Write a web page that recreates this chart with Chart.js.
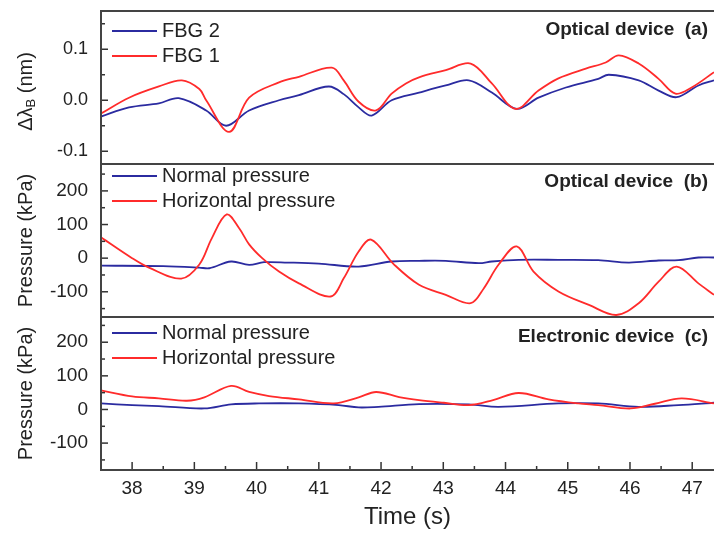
<!DOCTYPE html>
<html>
<head>
<meta charset="utf-8">
<script src="https://cdn.jsdelivr.net/npm/chart.js@4.4.1/dist/chart.umd.min.js"></script>
<style>
  html, body { margin: 0; padding: 0; background: #fff; }
  #wrap { position: relative; width: 714px; height: 534px; }
</style>
</head>
<body>
<div id="wrap"><canvas id="chart" width="714" height="534"></canvas></div>
<script>
// --- values ---
// panel (a): FBG wavelength shift (nm)
var fbg1Time = [37.5, 37.95, 38.43, 38.8, 39.08, 39.19, 39.56, 39.88, 40.36, 40.68, 41.21, 41.4, 41.64, 41.92, 42.17, 42.4, 42.61, 43.04, 43.44, 43.78, 44.16, 44.53, 44.85, 45.29, 45.61, 45.82, 46.14, 46.46, 46.73, 46.99, 47.35];
var fbg1Shift = [-0.026, 0.005, 0.027, 0.039, 0.022, 0.0, -0.062, 0.005, 0.035, 0.046, 0.064, 0.039, -0.003, -0.020, 0.013, 0.033, 0.045, 0.059, 0.072, 0.033, -0.017, 0.019, 0.043, 0.062, 0.074, 0.088, 0.072, 0.042, 0.013, 0.025, 0.055];
var fbg2Time = [37.5, 37.95, 38.43, 38.75, 39.19, 39.51, 39.88, 40.36, 40.68, 41.16, 41.4, 41.64, 41.85, 42.17, 42.61, 43.04, 43.41, 43.78, 44.18, 44.53, 44.97, 45.49, 45.66, 46.14, 46.46, 46.75, 47.1, 47.35];
var fbg2Shift = [-0.032, -0.014, -0.006, 0.004, -0.020, -0.050, -0.020, 0.0, 0.010, 0.027, 0.012, -0.014, -0.030, 0.0, 0.015, 0.029, 0.039, 0.015, -0.017, 0.005, 0.025, 0.042, 0.050, 0.039, 0.019, 0.006, 0.029, 0.039];

// panel (b): optical device pressures (kPa)
var optHorizTime = [37.5, 38.0, 38.27, 38.79, 39.08, 39.28, 39.52, 39.72, 39.88, 40.09, 40.36, 40.68, 41.19, 41.4, 41.64, 41.84, 42.21, 42.61, 43.04, 43.44, 43.65, 43.89, 44.18, 44.45, 44.85, 45.34, 45.78, 46.14, 46.46, 46.75, 47.1, 47.35];
var optHoriz = [62, 0, -28, -61, -19, 59, 130, 89, 41, 0, -40, -75, -114, -60, 20, 55, -19, -79, -109, -134, -90, -19, 35, -40, -99, -139, -169, -134, -70, -25, -75, -109];
var optNormTime = [37.5, 38.5, 39.08, 39.24, 39.59, 39.88, 40.12, 40.5, 41.0, 41.64, 42.17, 42.61, 43.04, 43.57, 43.78, 44.21, 44.85, 45.49, 45.98, 46.46, 46.78, 47.1, 47.35];
var optNorm = [-22, -24, -28, -30, -10, -20, -12, -13, -16, -25, -10, -8, -8, -15, -10, -5, -5, -6, -13, -7, -6, 2, 2];

// panel (c): electronic device pressures (kPa)
var elecHorizTime = [37.5, 38.0, 38.43, 38.88, 39.16, 39.59, 39.88, 40.2, 40.68, 41.24, 41.64, 41.92, 42.29, 42.61, 43.01, 43.41, 43.8, 44.21, 44.69, 45.17, 45.49, 46.01, 46.4, 46.83, 47.35];
var elecHoriz = [57, 39, 33, 26, 36, 70, 52, 40, 30, 18, 36, 52, 37, 28, 20, 13, 28, 49, 30, 18, 13, 3, 17, 33, 18];
var elecNormTime = [37.5, 38.0, 38.43, 39.16, 39.59, 40.04, 40.68, 41.32, 41.64, 41.96, 42.61, 43.41, 43.89, 44.85, 45.49, 46.14, 46.78, 47.35];
var elecNorm = [18, 13, 10, 3, 15, 18, 18, 13, 6, 8, 16, 15, 8, 18, 18, 8, 13, 20];

// tick values
var timeTicks = [38, 39, 40, 41, 42, 43, 44, 45, 46, 47];
var timeMinor = [38.5, 39.5, 40.5, 41.5, 42.5, 43.5, 44.5, 45.5, 46.5];
var shiftTicks = [-0.1, 0.0, 0.1];
var shiftMinor = [-0.05, 0.05, 0.15];
var pressureTicks = [-100, 0, 100, 200];
var pressureMinor = [-150, -50, 50, 150, 250];

var BLUE = '#2b2ba0';
var RED = '#ff2b2b';
var FONT = '"Liberation Sans", Arial, sans-serif';

function pts(t, v) {
    return t.map(function (x, i) { return { x: x, y: v[i] }; });
}

function line(label, t, v, color, axis) {
    return {
        label: label,
        data: pts(t, v),
        yAxisID: axis,
        borderColor: color,
        borderWidth: 1.8,
        pointRadius: 0,
        fill: false,
        tension: 0.35
    };
}

var panels = [
    { axis: 'yA', major: shiftTicks, minor: shiftMinor, label: 'Optical device  (a)', legendTop: 20, labelTop: 19,
      legend: [['FBG 2', BLUE], ['FBG 1', RED]] },
    { axis: 'yB', major: pressureTicks, minor: pressureMinor, label: 'Optical device  (b)', legendTop: 12, labelTop: 18,
      legend: [['Normal pressure', BLUE], ['Horizontal pressure', RED]] },
    { axis: 'yC', major: pressureTicks, minor: pressureMinor, label: 'Electronic device  (c)', legendTop: 16, labelTop: 20,
      legend: [['Normal pressure', BLUE], ['Horizontal pressure', RED]] }
];

function yScale(min, max, ticks, fmt, size) {
    return {
        type: 'linear',
        position: 'left',
        stack: 'panels',
        stackWeight: 1,
        min: min,
        max: max,
        border: { display: false },
        grid: { display: false, drawTicks: false },
        ticks: { color: '#222', padding: 13, font: { family: FONT, size: size }, callback: fmt },
        afterBuildTicks: function (s) { s.ticks = ticks.map(function (v) { return { value: v }; }); },
        afterFit: function (s) { s.width = 101; s.paddingTop = 0; s.paddingBottom = 0; }
    };
}

var panelDecor = {
    id: 'panelDecor',
    afterDraw: function (chart) {
        var ctx = chart.ctx;
        var area = chart.chartArea;
        var xs = chart.scales.x;
        ctx.save();

        // inward ticks
        ctx.strokeStyle = '#333';
        ctx.lineWidth = 1.5;
        function seg(x1, y1, x2, y2) { ctx.beginPath(); ctx.moveTo(x1, y1); ctx.lineTo(x2, y2); ctx.stroke(); }
        panels.forEach(function (p) {
            var ys = chart.scales[p.axis];
            p.major.forEach(function (v) { var y = ys.getPixelForValue(v); seg(area.left, y, area.left + 7, y); });
            p.minor.forEach(function (v) { var y = ys.getPixelForValue(v); seg(area.left, y, area.left + 4, y); });
        });
        timeTicks.forEach(function (v) { var x = xs.getPixelForValue(v); seg(x, area.bottom, x, area.bottom - 8); });
        timeMinor.forEach(function (v) { var x = xs.getPixelForValue(v); seg(x, area.bottom, x, area.bottom - 4); });

        // frames
        ctx.strokeStyle = '#444';
        ctx.lineWidth = 2;
        seg(area.left, area.top, area.left, area.bottom);
        panels.forEach(function (p) {
            var ys = chart.scales[p.axis];
            seg(area.left - 1, ys.top, area.right, ys.top);
        });
        seg(area.left - 1, area.bottom, area.right, area.bottom);

        // legends and panel labels
        panels.forEach(function (p) {
            var ys = chart.scales[p.axis];
            ctx.textBaseline = 'middle';
            ctx.font = '20px ' + FONT;
            p.legend.forEach(function (item, i) {
                var y = ys.top + p.legendTop + i * 25;
                ctx.strokeStyle = item[1];
                ctx.lineWidth = 2;
                seg(area.left + 11, y, area.left + 56, y);
                ctx.fillStyle = '#222';
                ctx.textAlign = 'left';
                ctx.fillText(item[0], area.left + 61, y);
            });
            ctx.font = 'bold 19px ' + FONT;
            ctx.textAlign = 'right';
            ctx.fillStyle = '#222';
            ctx.fillText(p.label, 708, ys.top + p.labelTop);
        });

        // y axis titles
        ctx.fillStyle = '#222';
        ctx.textBaseline = 'middle';
        panels.forEach(function (p, i) {
            var ys = chart.scales[p.axis];
            var cy = (ys.top + ys.bottom) / 2;
            ctx.save();
            ctx.translate(26, cy + (i === 0 ? 4 : 0));
            ctx.rotate(-Math.PI / 2);
            if (i === 0) {
                var a = 'Δλ', b = 'B', c = ' (nm)';
                ctx.font = '20px ' + FONT; var wa = ctx.measureText(a).width, wc = ctx.measureText(c).width;
                ctx.font = '13px ' + FONT; var wb = ctx.measureText(b).width;
                var x0 = -(wa + wb + wc) / 2;
                ctx.textAlign = 'left';
                ctx.font = '20px ' + FONT; ctx.fillText(a, x0, 0);
                ctx.font = '13px ' + FONT; ctx.fillText(b, x0 + wa, 5);
                ctx.font = '20px ' + FONT; ctx.fillText(c, x0 + wa + wb, 0);
            } else {
                ctx.font = '20px ' + FONT;
                ctx.textAlign = 'center';
                ctx.fillText('Pressure (kPa)', 0, 0);
            }
            ctx.restore();
        });
        ctx.restore();
    }
};

new Chart(document.getElementById('chart').getContext('2d'), {
    type: 'line',
    data: {
        datasets: [
            line('FBG 1', fbg1Time, fbg1Shift, RED, 'yA'),
            line('FBG 2', fbg2Time, fbg2Shift, BLUE, 'yA'),
            line('Horizontal pressure', optHorizTime, optHoriz, RED, 'yB'),
            line('Normal pressure', optNormTime, optNorm, BLUE, 'yB'),
            line('Horizontal pressure', elecHorizTime, elecHoriz, RED, 'yC'),
            line('Normal pressure', elecNormTime, elecNorm, BLUE, 'yC')
        ]
    },
    options: {
        responsive: false,
        animation: false,
        devicePixelRatio: 1,
        layout: { padding: { top: 11, left: 0, right: 0, bottom: 0 } },
        plugins: { legend: { display: false }, tooltip: { enabled: false } },
        scales: {
            x: {
                type: 'linear',
                min: 37.5,
                max: 47.35,
                border: { display: false },
                grid: { display: false, drawTicks: false },
                ticks: { color: '#222', padding: 7, maxRotation: 0, font: { family: FONT, size: 19 } },
                afterBuildTicks: function (s) { s.ticks = timeTicks.map(function (v) { return { value: v }; }); },
                afterFit: function (s) { s.height = 64; s.paddingLeft = 0; s.paddingRight = 0; },
                title: { display: true, text: 'Time (s)', color: '#222', font: { family: FONT, size: 24 }, padding: { top: 0, bottom: 2 } }
            },
            // left-hand stacked axes are laid out last-defined on top, so panel (c) comes first
            yC: yScale(-180, 275, pressureTicks, function (v) { return v; }, 19),
            yB: yScale(-175, 280, pressureTicks, function (v) { return v; }, 19),
            yA: yScale(-0.125, 0.175, shiftTicks, function (v) { return v.toFixed(1); }, 18)
        }
    },
    plugins: [panelDecor]
});
</script>
</body>
</html>
